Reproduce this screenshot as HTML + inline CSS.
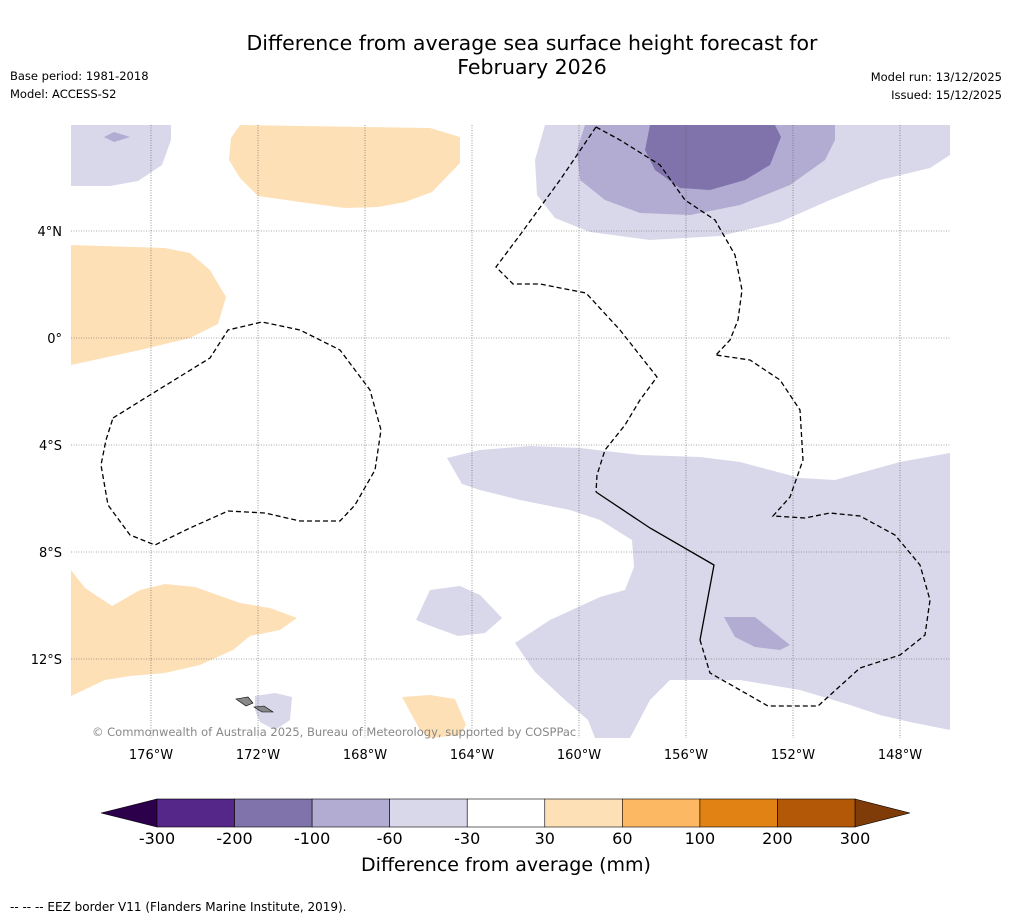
<!DOCTYPE html>
<html><head><meta charset="utf-8"><style>
body{margin:0;background:#fff;font-family:"DejaVu Sans",sans-serif;}
svg text{font-family:"DejaVu Sans",sans-serif;}
</style></head><body>
<svg id="chart" width="1011" height="919" viewBox="0 0 1011 919" xmlns="http://www.w3.org/2000/svg">
<rect width="1011" height="919" fill="#fff"/>
<text x="532" y="50" font-size="20.5" text-anchor="middle">Difference from average sea surface height forecast for</text>
<text x="532" y="74" font-size="20.5" text-anchor="middle">February 2026</text>
<text x="10" y="80" font-size="11.5">Base period: 1981-2018</text>
<text x="10" y="98" font-size="11.5">Model: ACCESS-S2</text>
<text x="1002" y="81" font-size="11.5" text-anchor="end">Model run: 13/12/2025</text>
<text x="1002" y="99" font-size="11.5" text-anchor="end">Issued: 15/12/2025</text>
<defs><clipPath id="mapclip"><rect x="71" y="125" width="879" height="613"/></clipPath></defs>
<g clip-path="url(#mapclip)">
<polygon fill="#d8d8ea" points="71,125 171,125 171,140 162,165 138,181 110,186 71,186"/>
<polygon fill="#b2abd2" points="104,137 114,132 130,137 114,142"/>
<polygon fill="#fee0b6" points="240,125 430,128 460,137 460,163 432,192 405,202 378,207 345,208 300,202 258,196 240,178 229,160 231,138"/>
<polygon fill="#fee0b6" points="71,245 165,248 190,253 210,270 226,297 218,324 190,338 140,350 71,365"/>
<polygon fill="#d8d8ea" points="545,125 950,125 950,155 930,168 880,180 830,200 780,222 720,236 650,240 590,232 555,218 537,195 535,160"/>
<polygon fill="#b2abd2" points="585,125 835,125 835,140 825,160 790,185 740,205 690,215 640,213 605,200 580,180 577,150"/>
<polygon fill="#8073ac" points="650,125 775,125 781,137 770,165 745,180 710,190 680,188 655,170 645,150"/>
<polygon fill="#d8d8ea" points="447,458 480,450 530,446 580,448 640,455 700,457 740,462 800,478 835,480 900,462 950,453 950,730 910,722 880,715 850,705 800,690 740,680 670,680 650,700 630,738 595,738 588,720 565,700 535,672 515,643 550,620 600,597 625,590 634,567 632,540 600,520 570,510 520,500 480,490 462,484"/>
<polygon fill="#b2abd2" points="724,617 755,617 790,645 780,650 755,647 735,637"/>
<polygon fill="#d8d8ea" points="430,590 460,586 480,595 502,618 485,633 458,636 428,625 416,620"/>
<polygon fill="#d8d8ea" points="255,696 275,693 292,697 290,720 275,730 260,722 255,710"/>
<polygon fill="#fee0b6" points="71,570 85,588 112,606 140,590 165,584 195,587 240,603 270,608 297,618 280,630 250,636 233,650 200,665 165,673 130,676 105,680 71,696"/>
<polygon fill="#fee0b6" points="402,697 430,695 455,699 466,725 460,735 430,738 420,730"/>
<polygon fill="#888" stroke="#000" stroke-width="0.6" points="236,699 248,697 253,703 246,706"/>
<polygon fill="#888" stroke="#000" stroke-width="0.6" points="254,707 264,706 273,712 262,712"/>
<g id="grid" stroke="#555" stroke-width="0.6" stroke-dasharray="1,1.5"></g>
<polyline fill="none" stroke="#000" stroke-width="1.3" stroke-dasharray="5,3" points="113,418 150,395 210,358 228,330 262,322 300,330 340,350 370,390 381,430 375,470 355,505 340,521 300,521 265,513 228,511 190,528 155,545 130,535 108,505 101,465 106,440 113,418"/>
<polyline fill="none" stroke="#000" stroke-width="1.3" stroke-dasharray="5,3" points="596,127 620,140 660,165 685,200 715,220 735,255 742,290 738,320 730,340 716,355"/>
<polyline fill="none" stroke="#000" stroke-width="1.3" stroke-dasharray="5,3" points="596,127 560,180 520,235 496,267 513,284 540,284 586,293 620,330 657,377 640,400 625,425 605,450 597,475 596,492"/>
<polyline fill="none" stroke="#000" stroke-width="1.3" points="596,492 650,528 714,565 700,640"/>
<polyline fill="none" stroke="#000" stroke-width="1.3" stroke-dasharray="5,3" points="700,640 710,673 740,690 768,706 818,706 860,668 900,655 925,635 930,600 920,565 895,535 860,516 830,513 805,518 773,516 790,497 803,460 800,410 780,380 750,360 716,355"/>
</g>
<text x="92" y="736" font-size="11.5" fill="#888">© Commonwealth of Australia 2025, Bureau of Meteorology, supported by COSPPac</text>
<g id="axes"></g>
<g id="colorbar"></g>
<text x="506" y="871" font-size="19" text-anchor="middle">Difference from average (mm)</text>
<text x="10" y="911" font-size="12">--  --  -- EEZ border V11 (Flanders Marine Institute, 2019).</text>
</svg>
<script>
const lonTicks=[-176,-172,-168,-164,-160,-156,-152,-148];
const latTicks=[4,0,-4,-8,-12];
const cbTicks=["-300","-200","-100","-60","-30","30","60","100","200","300"];
const cbColors=["#542788","#8073ac","#b2abd2","#d8d8ea","#ffffff","#fee0b6","#fdb863","#e08214","#b35806"];
const cbLow="#2d004b", cbHigh="#7f3b08";
const NS="http://www.w3.org/2000/svg";
const xLon=l=>151+(l+176)*26.75;
const yLat=a=>338-a*26.75;
function mk(t,a,p){const e=document.createElementNS(NS,t);for(const k in a)e.setAttribute(k,a[k]);p.appendChild(e);return e;}
const grid=document.getElementById('grid'),axes=document.getElementById('axes'),cb=document.getElementById('colorbar');
lonTicks.forEach(l=>{const x=xLon(l);
 const g=mk('line',{x1:x,x2:x,y1:125,y2:738},grid);
 
 
 const t=mk('text',{x:x,y:759,'font-size':13,'text-anchor':'middle'},axes);
 
 
 t.textContent=Math.abs(l)+'°W';});
latTicks.forEach(a=>{const y=yLat(a);
 const g=mk('line',{x1:71,x2:950,y1:y,y2:y},grid);
 
 
 const t=mk('text',{x:62,y:y+5,'font-size':13,'text-anchor':'end'},axes);
 
 
 t.textContent=a===0?'0°':Math.abs(a)+'°'+(a>0?'N':'S');});
const cx0=157,cx1=855,cy=799,ch=28,sw=(cx1-cx0)/cbColors.length;
const lo=mk('polygon',{points:`${cx0},${cy} ${cx0},${cy+ch} 101,${cy+ch/2}`,fill:cbLow,stroke:'#000','stroke-width':0.6},cb);


const hi=mk('polygon',{points:`${cx1},${cy} ${cx1},${cy+ch} 910,${cy+ch/2}`,fill:cbHigh,stroke:'#000','stroke-width':0.6},cb);


cbColors.forEach((c,i)=>{const r=mk('rect',{x:cx0+i*sw,y:cy,width:sw,height:ch,fill:c,stroke:'#000','stroke-width':0.6},cb);
 
 });
cbTicks.forEach((s,i)=>{const t=mk('text',{x:cx0+i*sw,y:844,'font-size':16,'text-anchor':'middle'},cb);
 
 
 t.textContent=s;});
</script>
</body></html>
